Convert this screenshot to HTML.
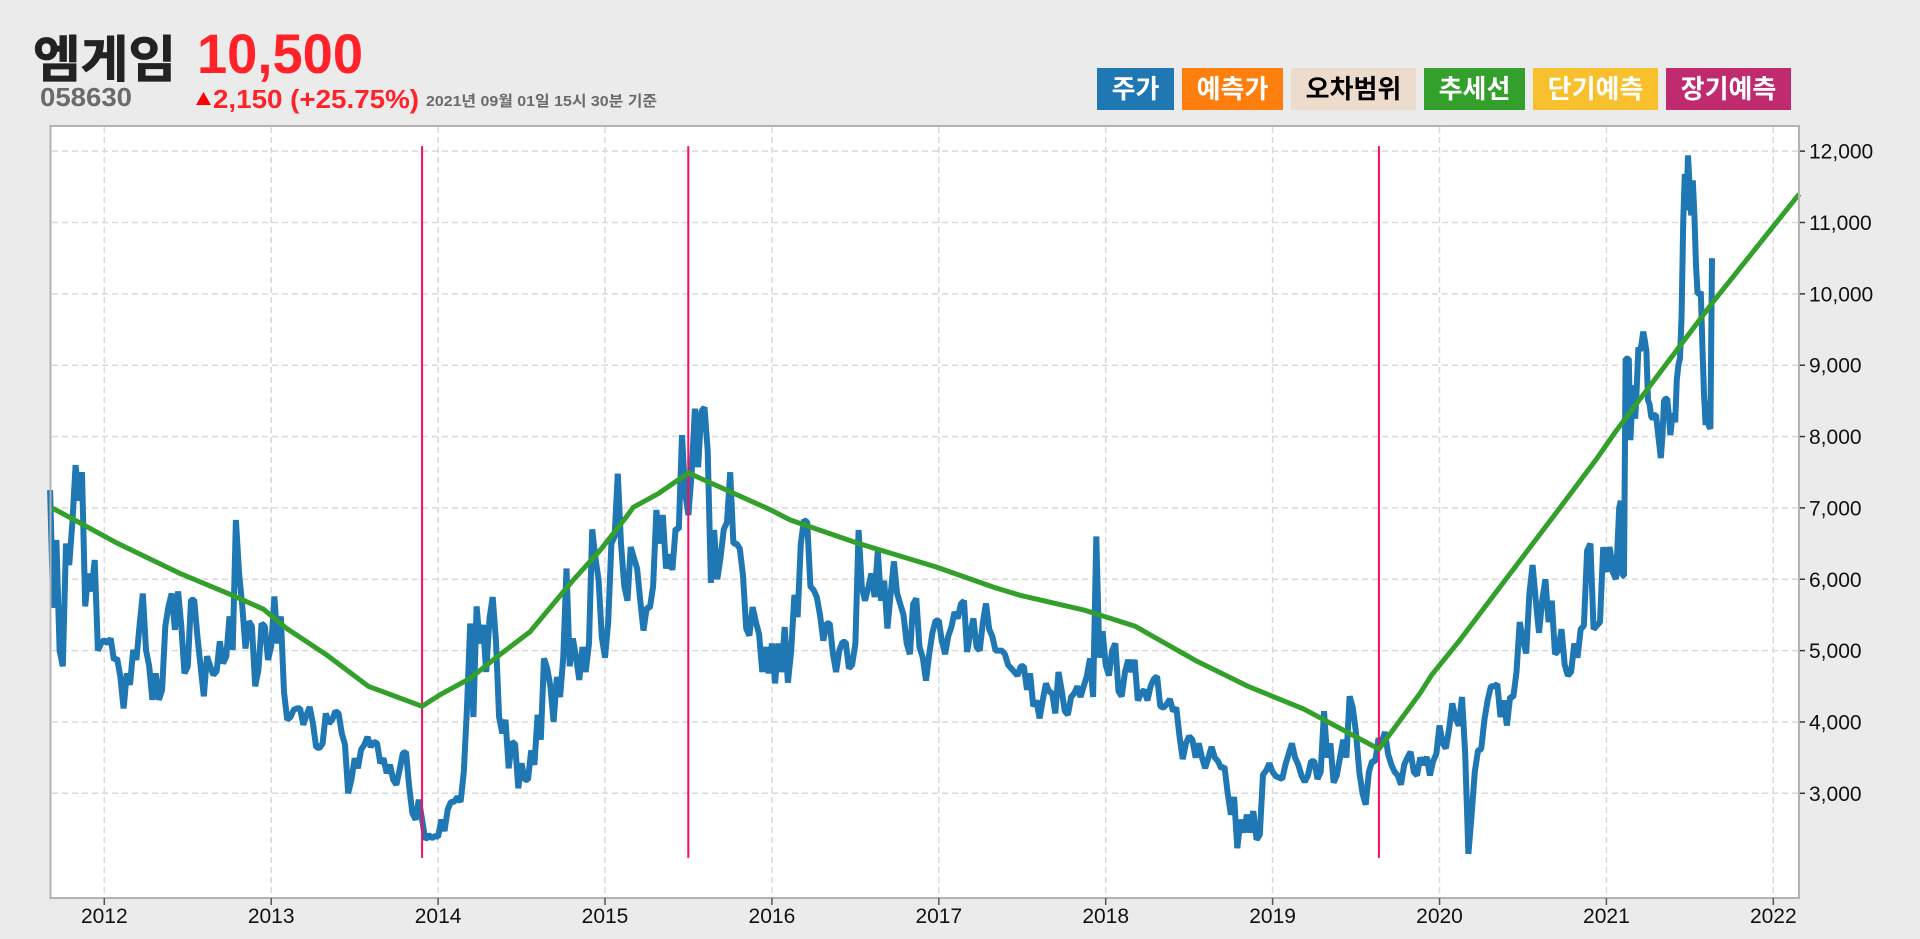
<!DOCTYPE html>
<html lang="ko">
<head>
<meta charset="utf-8">
<title>엠게임 주가 차트</title>
<style>
html,body{margin:0;padding:0;background:#ebebeb;}
svg{display:block;}
.kr{font-family:"Liberation Sans","Noto Sans CJK KR",sans-serif;font-weight:700;}
.tick{font-family:"Liberation Sans",sans-serif;font-size:21px;fill:#111;}
.btn{font-size:26px;text-anchor:middle;}
</style>
</head>
<body>
<svg id="chart" xmlns="http://www.w3.org/2000/svg" width="1920" height="939" viewBox="0 0 1920 939">
  <rect x="0" y="0" width="1920" height="939" fill="#ebebeb"/>

  <g>
    <text class="kr" x="33" y="77" font-size="50" fill="#222" stroke="#222" stroke-width="0.8" textLength="143" lengthAdjust="spacingAndGlyphs">엠게임</text>
    <text class="kr" x="40" y="106" font-size="26" fill="#6a6a6a" textLength="92" lengthAdjust="spacingAndGlyphs">058630</text>
    <text class="kr" x="197" y="73" font-size="56" fill="#ff2229" textLength="166" lengthAdjust="spacingAndGlyphs">10,500</text>
    <polygon points="196,105 211,105 203.5,92" fill="#f00"/>
    <text class="kr" x="213" y="108" font-size="26" fill="#ff2229" textLength="206" lengthAdjust="spacingAndGlyphs">2,150 (+25.75%)</text>
    <text class="kr" x="426" y="106" font-size="15" fill="#6a6a6a" textLength="231" lengthAdjust="spacingAndGlyphs">2021년 09월 01일 15시 30분 기준</text>
  </g>

  <g>
    <g>
      <rect x="1097" y="68" width="77" height="42" fill="#1f77b4"/>
      <text class="kr btn" x="1135.5" y="98" fill="#fff">주가</text>
    </g>
    <g>
      <rect x="1182" y="68" width="101" height="42" fill="#ff7f0e"/>
      <text class="kr btn" x="1232.5" y="98" fill="#fff">예측가</text>
    </g>
    <g>
      <rect x="1291" y="68" width="125" height="42" fill="#eddbcb"/>
      <text class="kr btn" x="1353.5" y="98" fill="#000">오차범위</text>
    </g>
    <g>
      <rect x="1424" y="68" width="101" height="42" fill="#33a02c"/>
      <text class="kr btn" x="1474.5" y="98" fill="#fff">추세선</text>
    </g>
    <g>
      <rect x="1533" y="68" width="125" height="42" fill="#f7c02c"/>
      <text class="kr btn" x="1595.5" y="98" fill="#fff">단기예측</text>
    </g>
    <g>
      <rect x="1666" y="68" width="125" height="42" fill="#c02a6e"/>
      <text class="kr btn" x="1728.5" y="98" fill="#fff">장기예측</text>
    </g>
  </g>

  <rect x="50.5" y="126" width="1748.5" height="772" fill="#fff"/>
  <g id="grid"></g>
  <g id="series"></g>
  <rect x="50.5" y="126" width="1748.5" height="772" fill="none" stroke="#b3b3b3" stroke-width="2"/>
  <g id="axes"></g>
</svg>

<script>
const yearTicks = [2012,2013,2014,2015,2016,2017,2018,2019,2020,2021,2022];
const priceTicks = [3000,4000,5000,6000,7000,8000,9000,10000,11000,12000];

const seriesStart = 2011.675;
const seriesEnd = 2021.633;

const prices2011 = [7250,5600,6550,5000,4780,6500,6200,6800,7600,7100,7500,5620,6080,5830,6270,5000,5100];
const prices2012 = [5150,5100,5170,4870,4890,4640,4190,4680,4520,5010,4870,5360,5800,5010,4780,4310,4680,4310,4450,5340,5620,5800,5290,5830,5340,4680,4780,5710,5710,5200,4780,4360,4920,4780,4660,4710,5130,4820,4920,5480,5010,6830,6080,5620,5030,5410,5340,4500,4730,5380,5340,4870];
const prices2013 = [5060,5760,5100,5480,4420,4030,4070,4170,4190,4190,3960,4100,4210,3980,3650,3630,3700,4120,3980,4030,4150,4120,3840,3680,3000,3190,3490,3350,3610,3680,3790,3650,3720,3700,3420,3490,3280,3400,3190,3120,3330,3560,3580,3090,2720,2630,2910,2630,2350,2420,2370,2400];
const prices2014 = [2390,2630,2470,2770,2880,2880,2950,2880,3300,4200,5380,4070,5620,5100,5360,4700,5450,5750,5150,4070,3840,4030,3350,3720,3690,3070,3420,3190,3190,3600,3400,4100,3750,4890,4750,4500,4000,4630,4350,4910,6150,4780,5170,4900,4590,5050,4700,5100,6700,6300,5990,5190];
const prices2015 = [4900,5400,6500,6600,7480,6500,5900,5700,6450,6300,6150,5700,5280,5600,5600,5900,6970,6500,6900,6150,6350,6130,6710,6700,8020,7200,6900,7500,8390,7570,8350,8410,7800,5950,6690,6000,6300,6700,6800,7500,6500,6500,6430,6050,5310,5210,5610,5400,5230,4700,5050,4680];
const prices2016 = [5100,4540,5100,4700,5330,4550,5000,5780,5470,6500,6830,6800,5900,5850,5750,5500,5140,5380,5380,4960,4700,5000,5120,5120,4750,4800,5100,6690,5890,5700,5880,6080,5750,6400,5700,5980,5310,5800,6250,5800,5650,5500,5100,4950,5650,5730,5050,4900,4580,4950,5250,5420];
const prices2017 = [5420,5130,4950,5200,5330,5540,5450,5650,5700,4980,5250,5450,5050,5000,5400,5660,5300,5200,5000,5000,5000,4950,4800,4750,4700,4650,4780,4780,4450,4680,4220,4300,4050,4300,4540,4430,4400,4120,4700,4450,4150,4100,4350,4400,4500,4350,4500,4640,4890,4350,6600,4900,5270];
const prices2018 = [4800,4650,5000,5100,4430,4360,4700,4870,4700,4870,4300,4400,4450,4300,4500,4600,4640,4220,4200,4250,4320,4150,4200,3800,3480,3700,3800,3750,3500,3700,3500,3350,3500,3650,3500,3450,3350,3370,3000,2700,2950,2230,2630,2450,2700,2450,2750,2350,2420,3260,3320,3420];
const prices2019 = [3300,3240,3220,3200,3400,3550,3700,3500,3400,3250,3160,3250,3450,3450,3200,3300,4150,3500,3700,3150,3250,3500,3750,3500,4360,4200,3850,3300,3000,2840,3300,3450,3450,3770,3700,3860,3550,3400,3300,3250,3120,3400,3500,3580,3300,3250,3500,3400,3510,3250,3450,3550];
const prices2020 = [3950,3700,3630,3900,4260,4050,3950,4350,3550,2150,2700,3300,3600,3620,4030,4300,4500,4500,4530,4070,4300,3950,4350,4350,4700,5400,5150,4960,5800,6200,5700,5250,5700,6000,5400,5700,4950,5000,5300,4800,4650,4700,5100,4900,5300,5350,6400,6500,5300,5350,5400,6450];
const prices2021 = [6100,6300,6450,6300,6100,6050,6000,6500,7000,7100,6050,6050,9090,9090,9090,7950,8400,8720,8250,8700,9250,9200,9300,9470,9350,9200,8510,8450,8280,8250,8300,8300,8100,7900,7700,8000,8500,8530,8530,8300,8020,8250,8320,8200,8800,9000,9100,9700,11000,11680,11170,11940,11500,11100,11590,11100,10400,10000,10000,10030,9260,8600,8160,8500,8150,8110,10500];

const trendDates = [2011.687,2011.814,2012.074,2012.454,2012.773,2012.953,2013.093,2013.332,2013.582,2013.732,2013.904,2014.011,2014.191,2014.341,2014.551,2014.692,2014.81,2014.97,2015.12,2015.17,2015.32,2015.499,2015.99,2016.11,2016.508,2016.987,2017.327,2017.487,2017.867,2018.177,2018.547,2018.847,2019.187,2019.637,2019.883,2019.953,2020.123,2020.362,2020.712,2020.942,2021.062,2021.64,2022.155];
const trendValues = [7000,6840,6510,6080,5770,5580,5310,4940,4500,4370,4220,4380,4610,4890,5265,5660,5990,6405,6850,7010,7200,7490,6975,6830,6510,6170,5890,5775,5570,5340,4850,4505,4180,3620,4400,4660,5150,5890,6970,7690,8090,9890,11400];

const signalDates = [2013.904,2015.499,2019.637];
const signalTopPrice = 12070;
const signalBottomPrice = 2095;

const NS = 'http://www.w3.org/2000/svg';
function xScale(year){ return 104.3 + (year - 2012) * 166.9; }
function yScale(price){ return 793.3 - (price - 3000) * 0.07135; }
function make(tag, parent, attrs){
  const el = document.createElementNS(NS, tag);
  for (const k in attrs) el.setAttribute(k, attrs[k]);
  parent.appendChild(el);
  return el;
}

const gridGroup = document.getElementById('grid');
const seriesGroup = document.getElementById('series');
const axesGroup = document.getElementById('axes');
const gridStyle = {stroke:'#d9d9d9','stroke-width':1.5,'stroke-dasharray':'6 4',fill:'none'};

yearTicks.forEach(function(year){
  const x = xScale(year);
  const line = make('line', gridGroup, Object.assign({x1:x,x2:x,y1:127,y2:897}, gridStyle));
  
  
  const tick = make('line', axesGroup, {x1:x,x2:x,y1:898,y2:905,stroke:'#555','stroke-width':1.5});
  
  
  const label = make('text', axesGroup, {x:x,y:923,'text-anchor':'middle','class':'tick'});
  
  
  label.textContent = String(year);
});

priceTicks.forEach(function(price){
  const y = yScale(price);
  const line = make('line', gridGroup, Object.assign({x1:52,x2:1798,y1:y,y2:y}, gridStyle));
  
  
  const tick = make('line', axesGroup, {x1:1800,x2:1805,y1:y,y2:y,stroke:'#333','stroke-width':1.5});
  
  
  const label = make('text', axesGroup, {x:1809,y:y+7.5,'class':'tick'});
  
  
  label.textContent = price.toLocaleString('en-US');
});

function yearSegment(values, from, to){
  return values.map(function(v, i){
    return [xScale(from + (to - from) * i / values.length), yScale(v)];
  });
}
const pricePoints = [].concat(
  yearSegment(prices2011, seriesStart, 2012),
  yearSegment(prices2012, 2012, 2013),
  yearSegment(prices2013, 2013, 2014),
  yearSegment(prices2014, 2014, 2015),
  yearSegment(prices2015, 2015, 2016),
  yearSegment(prices2016, 2016, 2017),
  yearSegment(prices2017, 2017, 2018),
  yearSegment(prices2018, 2018, 2019),
  yearSegment(prices2019, 2019, 2020),
  yearSegment(prices2020, 2020, 2021),
  yearSegment(prices2021, 2021, seriesEnd + (seriesEnd - 2021) / (prices2021.length - 1))
);
function toPath(points){
  return points.map(function(p, i){ return (i ? 'L' : 'M') + p[0].toFixed(1) + ' ' + p[1].toFixed(1); }).join('');
}

const priceLine = make('path', seriesGroup, {d:toPath(pricePoints),fill:'none',stroke:'#1f77b4','stroke-width':6,'stroke-linejoin':'bevel'});



signalDates.forEach(function(date, i){
  const x = xScale(date);
  const signal = make('line', seriesGroup, {x1:x,x2:x,y1:yScale(signalTopPrice),y2:yScale(signalBottomPrice),stroke:'#ff0a5e','stroke-width':2});
  
  
});

const trendPoints = trendDates.map(function(d, i){ return [xScale(d), yScale(trendValues[i])]; });
const trendLine = make('path', seriesGroup, {d:toPath(trendPoints),fill:'none',stroke:'#33a02c','stroke-width':5,'stroke-linejoin':'round'});


</script>
</body>
</html>
